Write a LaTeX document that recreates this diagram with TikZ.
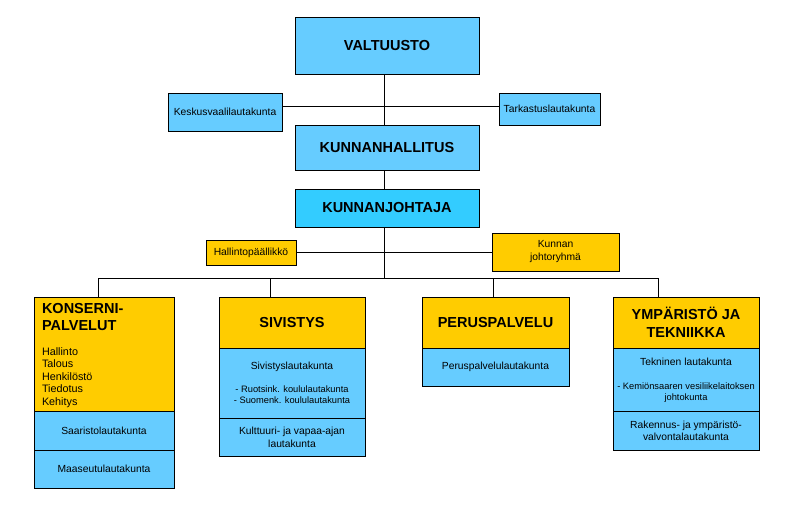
\documentclass[tikz,border=0pt]{standalone}
\usepackage{fontspec}
\setmainfont{Liberation Sans}
\definecolor{lblue}{HTML}{66CCFF}
\definecolor{cblue}{HTML}{33CCFF}
\definecolor{ygold}{HTML}{FFCC00}
\newcommand\titlef{\fontsize{14.5}{17}\selectfont\bfseries}
\newcommand\titlefb{\fontsize{14.5}{18}\selectfont\bfseries}
\newcommand\smallf{\fontsize{10.3}{13}\selectfont}
\newcommand\smallfb{\fontsize{10.3}{12}\selectfont}
\newcommand\listf{\fontsize{10.8}{12.6}\selectfont}
\newcommand\tinyf{\fontsize{9.3}{10.8}\selectfont}
\begin{document}
\begin{tikzpicture}[x=1pt,y=-1pt,
  box/.style={draw=black, line width=0.8pt, inner sep=0pt, outer sep=0pt, align=center},
  bb/.style={box, fill=lblue},
  cb/.style={box, fill=cblue},
  yb/.style={box, fill=ygold},
  txt/.style={inner sep=0pt, outer sep=0pt, align=center},
  conn/.style={draw=black, line width=0.8pt}]
\path[use as bounding box, fill=white] (0,0) rectangle (797,517);
% top boxes
\node[bb, minimum width=184, minimum height=57, font=\titlef] (valtuusto) at (387,45.5) {VALTUUSTO};
\node[bb, minimum width=114, minimum height=38, font=\smallf] (keskus) at (225,112) {Keskusvaalilautakunta};
\node[bb, minimum width=101, minimum height=32, font=\smallf] (tark) at (549.5,109) {Tarkastuslautakunta};
\node[bb, minimum width=184, minimum height=45, font=\titlef] (hallitus) at (387,147.5) {KUNNANHALLITUS};
\node[cb, minimum width=184, minimum height=38, font=\titlef] (johtaja) at (387,208) {KUNNANJOHTAJA};
\node[yb, minimum width=90, minimum height=25, font=\smallf] (hpaal) at (251,252.5) {Hallintopäällikkö};
\node[yb, minimum width=127, minimum height=38, font=\smallf] (jryhma) at (555.5,252) {Kunnan\\ johtoryhmä};
% connectors top
\coordinate (sp1) at (384,106);
\coordinate (sp2) at (384,252);
\coordinate (bus) at (384,278);
\draw[conn] (sp1 |- valtuusto.south) -- (sp1 |- hallitus.north);
\draw[conn] (keskus.east |- sp1) -- (tark.west |- sp1);
\draw[conn] (sp1 |- hallitus.south) -- (sp1 |- johtaja.north);
\draw[conn] (bus |- johtaja.south) -- (bus);
\draw[conn] (hpaal.east |- sp2) -- (jryhma.west |- sp2);
% bottom: KONSERNIPALVELUT
\node[yb, minimum width=140, minimum height=114] (konserni) at (104,354) {};
\node[bb, minimum width=140, minimum height=39, font=\smallf] (saaristo) at (104,430.5) {Saaristolautakunta};
\node[bb, minimum width=140, minimum height=38, font=\smallf] (maaseutu) at (104,469) {Maaseutulautakunta};
\node[txt, anchor=west, align=left, font=\titlef] (kontitle) at (42,317.5) {KONSERNI-\\ PALVELUT};
\node[txt, anchor=west, align=left, font=\listf] (konlist) at (42,377.5) {Hallinto\\ Talous\\ Henkilöstö\\ Tiedotus\\ Kehitys};
% SIVISTYS
\node[yb, minimum width=146, minimum height=51, font=\titlef] (sivistys) at (292,322.5) {SIVISTYS};
\node[bb, minimum width=146, minimum height=70] (sivlauta) at (292,383) {};
\node[txt, font=\smallf] (sivtxt) at (292,367) {Sivistyslautakunta};
\node[txt, font=\tinyf] (sivsub) at (292,395) {- Ruotsink. koululautakunta\\ - Suomenk. koululautakunta};
\node[bb, minimum width=146, minimum height=38, font=\smallf] (kulttuuri) at (292,437) {Kulttuuri- ja vapaa-ajan\\ lautakunta};
% PERUSPALVELU
\node[yb, minimum width=147, minimum height=51, font=\titlef] (perus) at (495.5,322.5) {PERUSPALVELU};
\node[bb, minimum width=147, minimum height=38, font=\smallf] (perlauta) at (495.5,367) {Peruspalvelulautakunta};
% YMPARISTO
\node[yb, minimum width=146, minimum height=51, font=\titlefb] (ymp) at (686,322.5) {YMPÄRISTÖ JA\\ TEKNIIKKA};
\node[bb, minimum width=146, minimum height=63] (teklauta) at (686,379.5) {};
\node[txt, font=\smallf] (tektxt) at (686,362) {Tekninen lautakunta};
\node[txt, font=\tinyf] (teksub) at (686,392.5) {- Kemiönsaaren vesiliikelaitoksen\\ johtokunta};
\node[bb, minimum width=146, minimum height=39, font=\smallfb] (rakennus) at (686,430.5) {Rakennus- ja ympäristö-\\ valvontalautakunta};
% bus and drops
\coordinate (d1) at (98,278);
\coordinate (d2) at (270,278);
\coordinate (d3) at (493,278);
\coordinate (d4) at (658,278);
\draw[conn] (d1) -- (d4);
\draw[conn] (d1) -- (d1 |- konserni.north);
\draw[conn] (d2) -- (d2 |- sivistys.north);
\draw[conn] (d3) -- (d3 |- perus.north);
\draw[conn] (d4) -- (d4 |- ymp.north);
\end{tikzpicture}
\end{document}
